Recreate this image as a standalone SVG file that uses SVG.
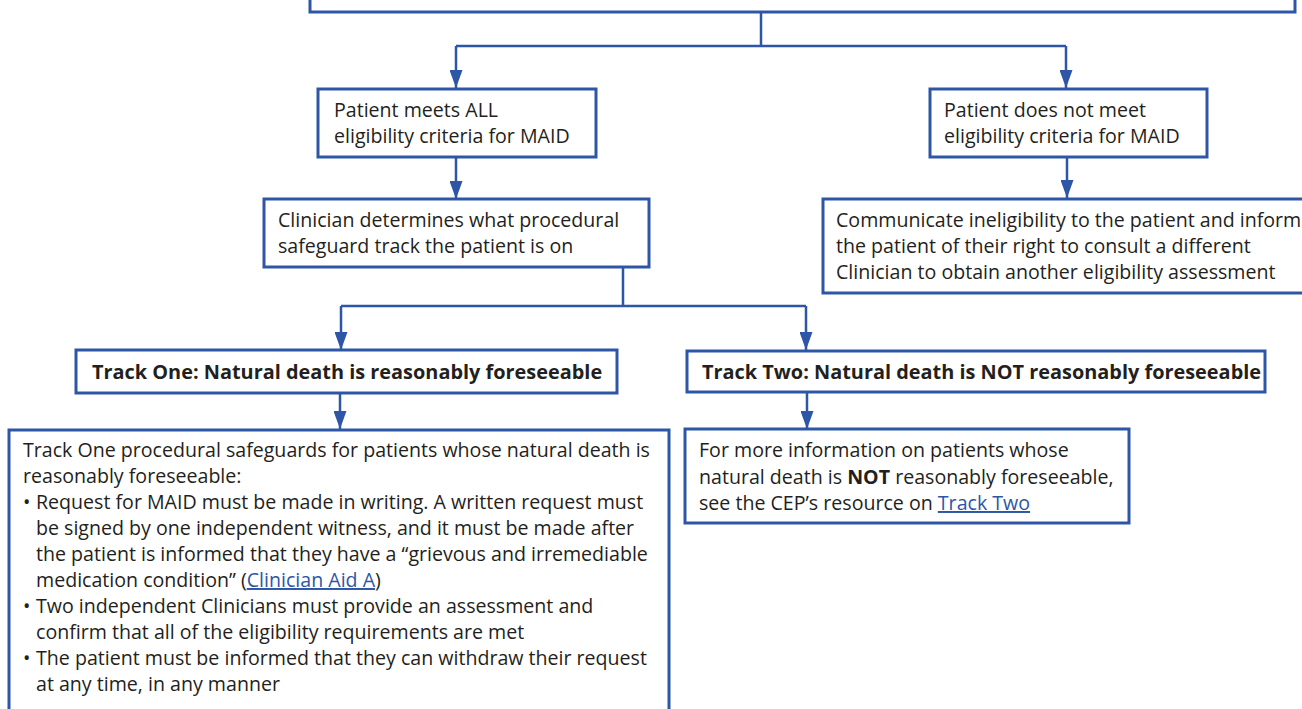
<svg xmlns="http://www.w3.org/2000/svg" width="1302" height="709" viewBox="0 0 1302 709">
<style>
.box{fill:#fff;stroke:#2E56A6;stroke-width:3}
.ln{fill:none;stroke:#2E56A6;stroke-width:2.5}
text{font-family:"Open Sans","Noto Sans","Liberation Sans",sans-serif;font-size:19.6px;fill:#231F20}
.b{font-weight:bold}
.h{font-size:19.9px}
.lnk{fill:#2E56A6;text-decoration:underline}
</style>
<defs>
<marker id="ah" markerUnits="userSpaceOnUse" markerWidth="18" markerHeight="13" viewBox="0 0 18 13" refX="18" refY="6.5" orient="auto">
<path d="M0,0 L18,6.5 L0,13 z" fill="#2E56A6"/>
</marker>
</defs>
<rect width="1302" height="709" fill="#fff"/>
<g id="connectors">
<path class="ln" d="M761,12 V46 M456,46 H1066"/>
<path class="ln" d="M456,46 V88" marker-end="url(#ah)"/>
<path class="ln" d="M1066,46 V88" marker-end="url(#ah)"/>
<path class="ln" d="M456,157 V199" marker-end="url(#ah)"/>
<path class="ln" d="M1067,157 V198" marker-end="url(#ah)"/>
<path class="ln" d="M623,267 V306 M341,306 H806"/>
<path class="ln" d="M341,306 V350" marker-end="url(#ah)"/>
<path class="ln" d="M806,306 V350" marker-end="url(#ah)"/>
<path class="ln" d="M340,393 V429" marker-end="url(#ah)"/>
<path class="ln" d="M807,392 V429" marker-end="url(#ah)"/>
</g>
<g id="top">
<rect class="box" x="310" y="-40" width="985" height="52"/>
</g>
<g id="meets">
<rect class="box" x="318" y="89" width="278" height="68"/>
<text x="334" y="117">Patient meets ALL</text>
<text x="334" y="143">eligibility criteria for MAID</text>
</g>
<g id="notmeet">
<rect class="box" x="930" y="89" width="277" height="68"/>
<text x="944" y="117">Patient does not meet</text>
<text x="944" y="143">eligibility criteria for MAID</text>
</g>
<g id="clinician">
<rect class="box" x="264" y="199" width="385" height="68"/>
<text x="278" y="227">Clinician determines what procedural</text>
<text x="278" y="253">safeguard track the patient is on</text>
</g>
<g id="communicate">
<rect class="box" x="823" y="199" width="500" height="94"/>
<text x="836" y="227">Communicate ineligibility to the patient and inform</text>
<text x="836" y="253">the patient of their right to consult a different</text>
<text x="836" y="279">Clinician to obtain another eligibility assessment</text>
</g>
<g id="trackone">
<rect class="box" x="76" y="350" width="541" height="43"/>
<text class="b h" x="92" y="379">Track One: Natural death is reasonably foreseeable</text>
</g>
<g id="tracktwo">
<rect class="box" x="687" y="351" width="578" height="41"/>
<text class="b h" x="702" y="379">Track Two: Natural death is NOT reasonably foreseeable</text>
</g>
<g id="trackone-detail">
<rect class="box" x="9" y="430" width="660" height="300"/>
<text x="23" y="457">Track One procedural safeguards for patients whose natural death is</text>
<text x="23" y="483">reasonably foreseeable:</text>
<text x="23" y="509">•</text>
<text x="36" y="509">Request for MAID must be made in writing. A written request must</text>
<text x="36" y="535">be signed by one independent witness, and it must be made after</text>
<text x="36" y="561">the patient is informed that they have a “grievous and irremediable</text>
<text x="36" y="587">medication condition” (<tspan class="lnk">Clinician Aid A</tspan>)</text>
<text x="23" y="613">•</text>
<text x="36" y="613">Two independent Clinicians must provide an assessment and</text>
<text x="36" y="639">confirm that all of the eligibility requirements are met</text>
<text x="23" y="665">•</text>
<text x="36" y="665">The patient must be informed that they can withdraw their request</text>
<text x="36" y="691">at any time, in any manner</text>
</g>
<g id="tracktwo-detail">
<rect class="box" x="685" y="429" width="444" height="94"/>
<text x="699" y="457">For more information on patients whose</text>
<text x="699" y="484">natural death is <tspan class="b">NOT</tspan> reasonably foreseeable,</text>
<text x="699" y="510">see the CEP’s resource on <tspan class="lnk">Track Two</tspan></text>
</g>
</svg>
